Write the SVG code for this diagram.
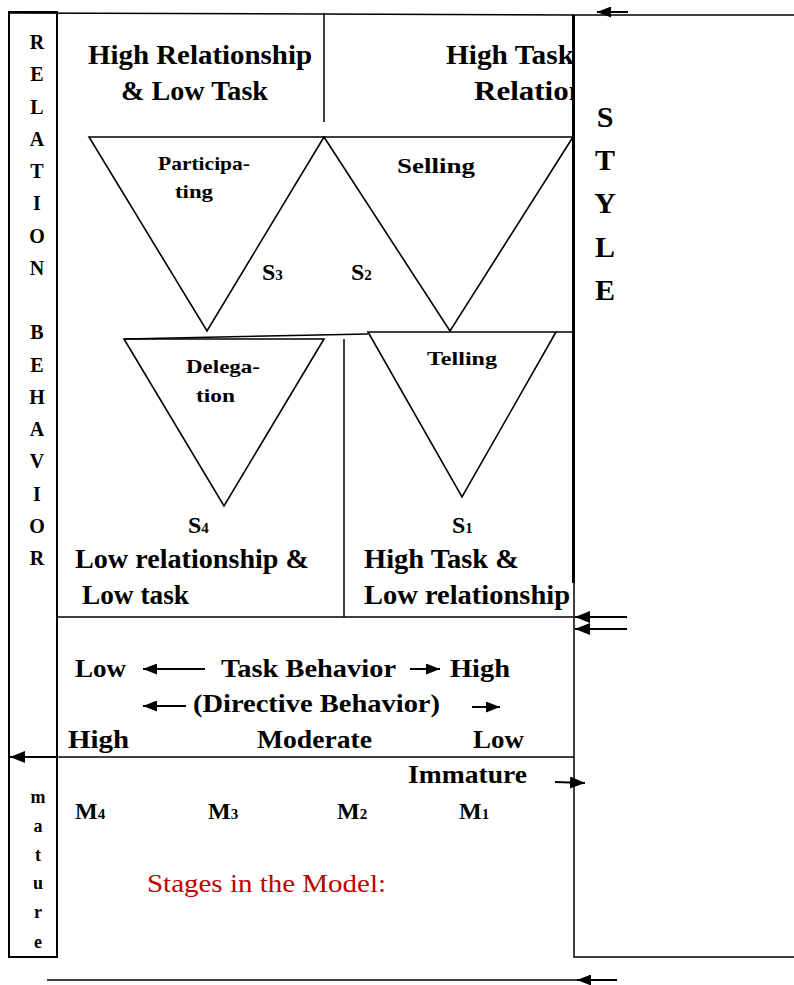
<svg xmlns="http://www.w3.org/2000/svg" width="794" height="985" viewBox="0 0 794 985">
<style>
  .t { font-family: "Liberation Serif", "Times New Roman", serif; font-weight: bold; fill: #000; }
  .h { font-size: 27px; }
  .tb { font-size: 26px; }
  .lab { font-size: 19px; }
  .sub { font-size: 24px; }
  .col { font-size: 20px; text-anchor: middle; }
  .mat { font-size: 18px; text-anchor: middle; }
  .red { font-family: "Liberation Serif", "Times New Roman", serif; font-size: 25px; fill: #c00000; }
  .ln { stroke: #000; stroke-width: 1.5; fill: none; }
  .thick { stroke: #000; stroke-width: 3; fill: none; }
  .tri { stroke: #000; stroke-width: 1.6; fill: none; stroke-linejoin: miter; }
  .arr { stroke: #000; stroke-width: 2; fill: none; }
</style>
<defs>
  <marker id="head" viewBox="0 0 14 11" refX="14" refY="5.5" markerWidth="14" markerHeight="11" markerUnits="userSpaceOnUse" orient="auto">
    <path d="M0,0 L14,5.5 L0,11 Z" fill="#000"/>
  </marker>
  <marker id="headL" viewBox="0 0 15 12" refX="15" refY="6" markerWidth="15" markerHeight="12" markerUnits="userSpaceOnUse" orient="auto">
    <path d="M0,0 L15,6 L0,12 Z" fill="#000"/>
  </marker>
  <clipPath id="clipRel"><rect x="0" y="0" width="572" height="985"/></clipPath>
</defs>
<rect width="794" height="985" fill="#fff"/>

<g id="frame">
  <rect x="9" y="12" width="48" height="945" fill="none" stroke="#000" stroke-width="2"/>
  <path class="ln" d="M9,13 L574,15 L794,15"/>
  <path class="thick" d="M573.5,15 L573.5,583"/>
  <path class="ln" d="M574,583 L574,957 L794,957"/>
  <path class="ln" d="M324,13 L324,122"/>
  <path class="ln" d="M57,617 L574,617"/>
  <path class="ln" d="M344,339 L344,617"/>
  <path class="ln" d="M125,339 L368,334"/>
  <path class="ln" d="M556,332 L574,332"/>
</g>

<g id="quadrant-top-left">
  <text class="t h" x="88" y="64" textLength="224" lengthAdjust="spacingAndGlyphs">High Relationship</text>
  <text class="t h" x="121" y="100" textLength="147" lengthAdjust="spacingAndGlyphs">&amp; Low Task</text>
</g>
<g id="quadrant-top-right" clip-path="url(#clipRel)">
  <text class="t h" x="446" y="64" textLength="128" lengthAdjust="spacingAndGlyphs">High Task</text>
  <text class="t h" x="474" y="100" textLength="112" lengthAdjust="spacingAndGlyphs">Relation</text>
</g>

<g id="style-label">
  <text class="t" font-size="30" text-anchor="middle" x="605" y="127">S</text>
  <text class="t" font-size="30" text-anchor="middle" x="605" y="170">T</text>
  <text class="t" font-size="30" text-anchor="middle" x="605" y="213">Y</text>
  <text class="t" font-size="30" text-anchor="middle" x="605" y="257">L</text>
  <text class="t" font-size="30" text-anchor="middle" x="605" y="300">E</text>
</g>

<g id="relation-behavior-label">
  <text class="t col" x="37" y="49">R</text>
  <text class="t col" x="37" y="81">E</text>
  <text class="t col" x="37" y="114">L</text>
  <text class="t col" x="37" y="146">A</text>
  <text class="t col" x="37" y="178">T</text>
  <text class="t col" x="37" y="210">I</text>
  <text class="t col" x="37" y="243">O</text>
  <text class="t col" x="37" y="275">N</text>
  <text class="t col" x="37" y="339">B</text>
  <text class="t col" x="37" y="372">E</text>
  <text class="t col" x="37" y="404">H</text>
  <text class="t col" x="37" y="436">A</text>
  <text class="t col" x="37" y="468">V</text>
  <text class="t col" x="37" y="501">I</text>
  <text class="t col" x="37" y="533">O</text>
  <text class="t col" x="37" y="565">R</text>
</g>

<g id="participating">
  <path class="tri" d="M89,137 L324,137 L207,331 Z"/>
  <text class="t lab" x="158" y="170" textLength="92" lengthAdjust="spacingAndGlyphs">Participa-</text>
  <text class="t lab" x="175" y="198" textLength="38" lengthAdjust="spacingAndGlyphs">ting</text>
  <text class="t sub" x="262" y="280">S<tspan font-size="15">3</tspan></text>
</g>
<g id="selling">
  <path class="tri" d="M324,137 L573,137 L450,331 Z"/>
  <text class="t" font-size="21" x="397" y="173" textLength="78" lengthAdjust="spacingAndGlyphs">Selling</text>
  <text class="t sub" x="351" y="280">S<tspan font-size="15">2</tspan></text>
</g>
<g id="delegation">
  <path class="tri" d="M124,339 L324,339 L224,506 Z"/>
  <text class="t lab" x="186" y="373" textLength="74" lengthAdjust="spacingAndGlyphs">Delega-</text>
  <text class="t lab" x="196" y="402" textLength="39" lengthAdjust="spacingAndGlyphs">tion</text>
  <text class="t sub" x="188" y="533">S<tspan font-size="15">4</tspan></text>
  <text class="t h" x="75" y="568" textLength="234" lengthAdjust="spacingAndGlyphs">Low relationship &amp;</text>
  <text class="t h" x="82" y="604" textLength="107" lengthAdjust="spacingAndGlyphs">Low task</text>
</g>
<g id="telling">
  <path class="tri" d="M368,332 L556,332 L462,497 Z"/>
  <text class="t lab" x="427" y="365" textLength="70" lengthAdjust="spacingAndGlyphs">Telling</text>
  <text class="t sub" x="452" y="533">S<tspan font-size="15">1</tspan></text>
  <text class="t h" x="364" y="568" textLength="155" lengthAdjust="spacingAndGlyphs">High Task &amp;</text>
  <text class="t h" x="364" y="604" textLength="206" lengthAdjust="spacingAndGlyphs">Low relationship</text>
</g>

<g id="task-behavior">
  <text class="t tb" x="75" y="677" textLength="51" lengthAdjust="spacingAndGlyphs">Low</text>
  <text class="t tb" x="221" y="677" textLength="175" lengthAdjust="spacingAndGlyphs">Task Behavior</text>
  <text class="t tb" x="450" y="677" textLength="60" lengthAdjust="spacingAndGlyphs">High</text>
  <text class="t tb" x="193" y="712" textLength="247" lengthAdjust="spacingAndGlyphs">(Directive Behavior)</text>
  <text class="t tb" x="68" y="748" textLength="61" lengthAdjust="spacingAndGlyphs">High</text>
  <text class="t tb" x="257" y="748" textLength="115" lengthAdjust="spacingAndGlyphs">Moderate</text>
  <text class="t tb" x="473" y="748" textLength="51" lengthAdjust="spacingAndGlyphs">Low</text>
</g>

<g id="maturity">
  <text class="t tb" x="408" y="783" textLength="119" lengthAdjust="spacingAndGlyphs">Immature</text>
  <text class="t sub" x="75" y="819">M<tspan font-size="15">4</tspan></text>
  <text class="t sub" x="208" y="819">M<tspan font-size="15">3</tspan></text>
  <text class="t sub" x="337" y="819">M<tspan font-size="15">2</tspan></text>
  <text class="t sub" x="459" y="819">M<tspan font-size="15">1</tspan></text>
  <text class="red" x="147" y="892" textLength="239" lengthAdjust="spacingAndGlyphs">Stages in the Model:</text>
</g>

<g id="mature-label">
  <text class="t mat" x="38" y="803">m</text>
  <text class="t mat" x="38" y="832">a</text>
  <text class="t mat" x="38" y="861">t</text>
  <text class="t mat" x="38" y="889">u</text>
  <text class="t mat" x="38" y="918">r</text>
  <text class="t mat" x="38" y="948">e</text>
</g>

<g id="connectors">
  <path class="arr" d="M628,12 L597,12" marker-end="url(#head)"/>
  <path class="arr" d="M627,617 L575,617" marker-end="url(#headL)"/>
  <path class="arr" d="M627,629 L575,629" marker-end="url(#headL)"/>
  <path class="ln" d="M574,757 L57,757"/>
  <path class="arr" d="M57,757 L10,757" marker-end="url(#headL)"/>
  <path class="arr" d="M205,669 L143,669" marker-end="url(#head)"/>
  <path class="arr" d="M410,669 L440,669" marker-end="url(#head)"/>
  <path class="arr" d="M186,706 L143,706" marker-end="url(#head)"/>
  <path class="arr" d="M472,707 L500,707" marker-end="url(#head)"/>
  <path class="arr" d="M555,782 L585,783" marker-end="url(#headL)"/>
  <path class="ln" d="M47,980 L617,980"/>
  <path class="arr" d="M617,980 L577,980" marker-end="url(#head)"/>
</g>
</svg>
